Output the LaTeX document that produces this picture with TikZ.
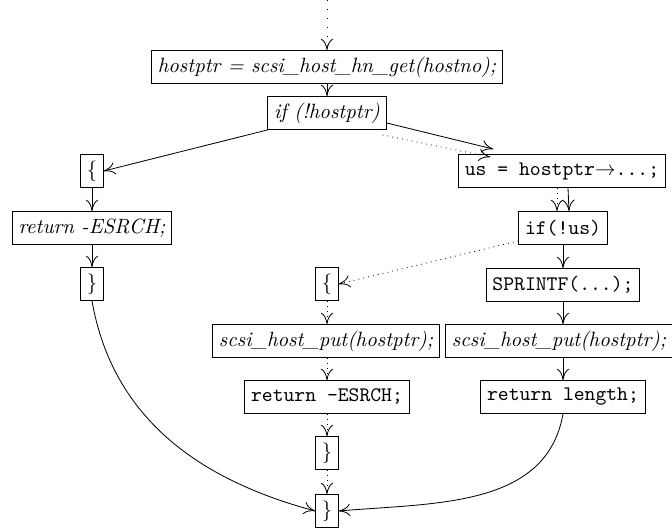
\documentclass[tikz,border=0pt]{standalone}
\usetikzlibrary{arrows.meta,calc}
\begin{document}
\begin{tikzpicture}[x=0.484pt,y=0.484pt,
  box/.style={draw,inner sep=3pt,minimum height=16pt,font=\normalsize},
  tip/.style={-{To[length=5.5pt,width=6pt]}},
  flow/.style={tip},
  dflow/.style={tip,dotted},
  ldflow/.style={tip,loosely dotted}]
\useasboundingbox (0,0) rectangle (672,-531);
\node[box] (b1) at (327,-67) {\textit{hostptr = scsi\_host\_hn\_get(hostno);}};
\node[box] (b2) at (327,-113) {\textit{if (!hostptr)}};
\node[box] (l1) at (92,-171) {\{};
\node[box] (l2) at (92,-228) {\textit{return -ESRCH;}};
\node[box] (l3) at (92,-284) {\}};
\node[box] (r1) at (562,-171) {\texttt{us = hostptr$\rightarrow$...;}};
\node[box] (r2) at (563,-228) {\texttt{if(!us)}};
\node[box] (r3) at (563,-285) {\texttt{SPRINTF(...);}};
\node[box] (r4) at (559,-341) {\textit{scsi\_host\_put(hostptr);}};
\node[box] (r5) at (563,-397) {\texttt{return length;}};
\node[box] (m1) at (327,-284) {\{};
\node[box] (m2) at (326,-341) {\textit{scsi\_host\_put(hostptr);}};
\node[box] (m3) at (327,-397) {\texttt{return -ESRCH;}};
\node[box] (m4) at (327,-453) {\}};
\node[box] (m5) at (327,-511) {\}};
\coordinate (top) at (327,0);
\draw[ldflow] (top) -- (b1);
\draw[flow] (b1) -- (b2);
\draw[flow] (b2.south west) -- (l1.east);
\draw[flow] ($(b2.south east)+(0,7)$) -- ($(r1.north west)+(35,5)$);
\draw[dflow] ($(b2.south east)+(-4,-5)$) -- ($(r1.north west)+(32,-3)$);
\draw[dflow] ($(r1.south)+(-5,0)$) -- ($(r2.north)+(-6,0)$);
\draw[flow] ($(r1.south)+(6,0)$) -- ($(r2.north)+(6,0)$);
\draw[dflow] ($(r2.south west)+(0,4)$) -- (m1.east);
\draw[flow] (r2) -- (r3);
\draw[flow] (r3) -- (r2 |- r4.north);
\draw[flow] (r2 |- r4.south) -- (r5);
\draw[flow] (l1) -- (l2);
\draw[flow] (l2) -- (l3);
\draw[dflow] (m1) -- (m1 |- m2.north);
\draw[dflow] (m1 |- m2.south) -- (m3);
\draw[dflow] (m3) -- (m4);
\draw[dflow] (m4) -- (m5);
\draw[flow] (l3.south) to[out=-80,in=165] (m5.west);
\draw[flow] (r5.south) to[out=-100,in=5] (m5.east);
\end{tikzpicture}
\end{document}
